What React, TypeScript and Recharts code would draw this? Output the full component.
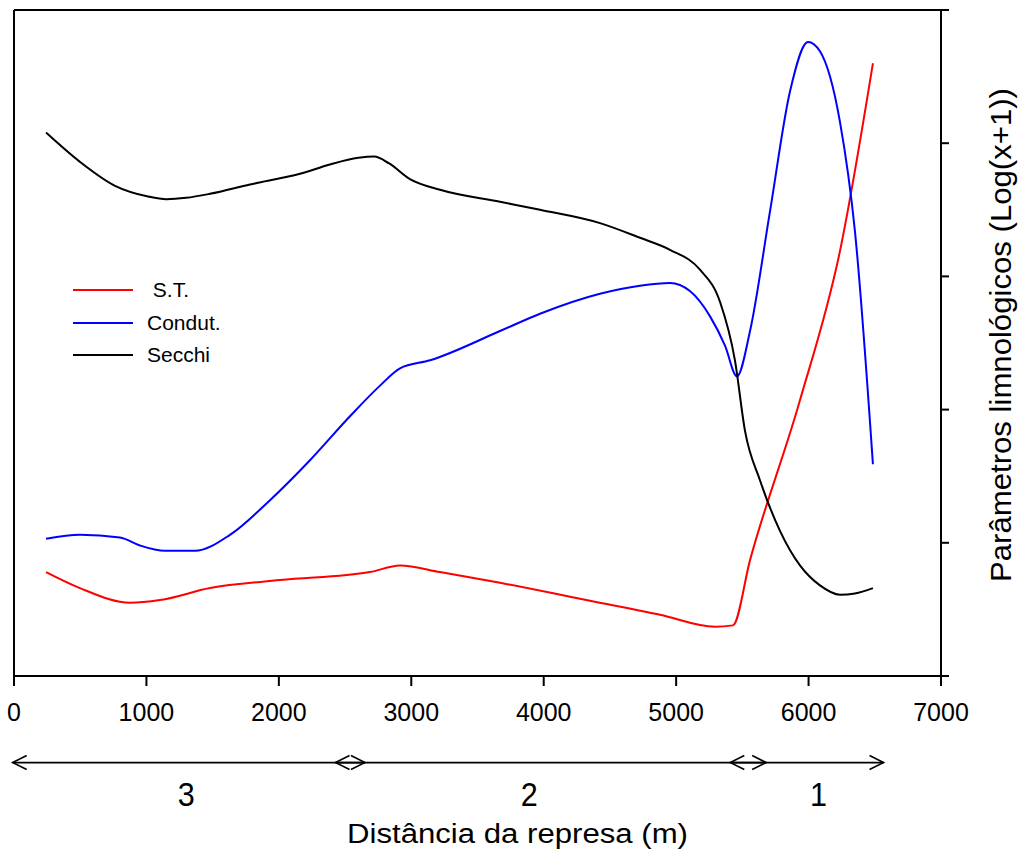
import {
  LineChart,
  Line,
  XAxis,
  YAxis,
  ReferenceLine,
  Label,
} from 'recharts'

// distance from the dam (m) and log(x+1) values
const secchiX = [242, 498, 763, 1012, 1150, 1300, 1480, 1782, 2160, 2386, 2600, 2720, 2830, 2990, 3217, 3670, 3972, 4425, 4727, 4953, 5180, 5331, 5444, 5520, 5633, 5784, 5935, 6086, 6237, 6350, 6486]
const secchiY = [4.08, 3.86, 3.68, 3.6, 3.58, 3.59, 3.62, 3.69, 3.77, 3.84, 3.89, 3.9, 3.85, 3.73, 3.65, 3.56, 3.5, 3.4, 3.29, 3.2, 3.05, 2.81, 2.37, 1.84, 1.47, 1.09, 0.83, 0.68, 0.61, 0.62, 0.66]

const condutX = [242, 498, 800, 951, 1140, 1367, 1631, 1933, 2235, 2537, 2764, 2915, 3142, 3670, 3972, 4425, 4727, 4953, 5104, 5256, 5369, 5459, 5558, 5709, 5860, 5996, 6086, 6237, 6350, 6486]
const condutY = [1.03, 1.06, 1.04, 0.98, 0.94, 0.94, 1.06, 1.32, 1.62, 1.95, 2.18, 2.31, 2.37, 2.59, 2.72, 2.87, 2.93, 2.95, 2.89, 2.7, 2.48, 2.25, 2.59, 3.49, 4.39, 4.76, 4.69, 4.16, 3.34, 1.59]

const stX = [242, 498, 876, 1102, 1480, 2009, 2688, 2915, 3217, 3670, 4274, 4878, 5293, 5429, 5558, 5935, 6237, 6486]
const stY = [0.78, 0.66, 0.55, 0.57, 0.66, 0.72, 0.78, 0.83, 0.78, 0.7, 0.58, 0.46, 0.37, 0.38, 0.87, 2.07, 3.19, 4.6]

const xTicks = [0, 1000, 2000, 3000, 4000, 5000, 6000, 7000]
const yTicks = [0, 1, 2, 3, 4, 5]

// zones along the reservoir (arrows under the x axis)
const zoneNames = ['3', '2', '1']
const zoneFrom = [-10, 2428, 5409]
const zoneTo = [2650, 5680, 6566]
const zoneLabelX = [1300, 3890, 6075]

const toPoints = (xs: number[], ys: number[]) => xs.map((x, i) => ({ x, y: ys[i] }))

const series = [
  { name: ' S.T.', color: '#ff0000', data: toPoints(stX, stY) },
  { name: 'Condut.', color: '#0000ff', data: toPoints(condutX, condutY) },
  { name: 'Secchi', color: '#000000', data: toPoints(secchiX, secchiY) },
]

const ARIAL = '"Liberation Sans", Arial, sans-serif'

function ZoneArrow(props: any) {
  const { x1, y1, x2, y2, zone } = props
  const i = zoneNames.indexOf(zone)
  const frac = (zoneLabelX[i] - zoneFrom[i]) / (zoneTo[i] - zoneFrom[i])
  const lx = x1 + (x2 - x1) * frac
  const h = 7
  const w = 14
  return (
    <g stroke="#000" strokeWidth={1.6} fill="none">
      <line x1={x1} y1={y1} x2={x2} y2={y2} />
      <polyline points={`${x1 + w},${y1 - h} ${x1},${y1} ${x1 + w},${y1 + h}`} />
      <polyline points={`${x2 - w},${y2 - h} ${x2},${y2} ${x2 - w},${y2 + h}`} />
      <text
        x={lx}
        y={y1 + 43}
        textAnchor="middle"
        stroke="none"
        fill="#000"
        fontSize={33}
        fontFamily={ARIAL}
        textLength={17}
        lengthAdjust="spacingAndGlyphs"
      >
        {zone}
      </text>
    </g>
  )
}

function LegendBox() {
  return (
    <div style={{ position: 'absolute', left: 73, top: 274, fontFamily: ARIAL, fontSize: 21, color: '#000' }}>
      {series.map(s => (
        <div key={s.name} style={{ display: 'flex', alignItems: 'center', height: 32.5 }}>
          <div style={{ width: 60, height: 2, background: s.color, marginRight: 14 }} />
          <span style={{ whiteSpace: 'pre' }}>{s.name}</span>
        </div>
      ))}
    </div>
  )
}

export default function App() {
  return (
    <div style={{ position: 'absolute', left: 0, top: 0, width: 1022, height: 854, background: '#fff' }}>
      <LineChart width={1022} height={854} margin={{ top: 10, right: 0, bottom: 0, left: 14 }}>
        <XAxis
          dataKey="x"
          type="number"
          domain={[0, 7000]}
          ticks={xTicks}
          allowDataOverflow
          height={178}
          axisLine={{ stroke: '#000', strokeWidth: 2 }}
          tickLine={{ stroke: '#000', strokeWidth: 2 }}
          tickSize={10}
          tickMargin={17}
          tick={{ fontSize: 25, fill: '#000', fontFamily: ARIAL }}
        >
          <Label
            content={({ viewBox }: any) => (
              <text
                x={viewBox.x + viewBox.width / 2 + 40}
                y={843}
                textAnchor="middle"
                fontSize={27}
                fontFamily={ARIAL}
                textLength={341}
                lengthAdjust="spacingAndGlyphs"
                fill="#000"
              >
                Distância da represa (m)
              </text>
            )}
          />
        </XAxis>
        <YAxis
          orientation="right"
          type="number"
          domain={[0, 5]}
          ticks={yTicks}
          width={81}
          tickFormatter={() => ''}
          tickSize={8}
          axisLine={{ stroke: '#000', strokeWidth: 2 }}
          tickLine={{ stroke: '#000', strokeWidth: 2 }}
        >
          <Label
            content={({ viewBox }: any) => (
              <text
                transform={`translate(1011, ${viewBox.y + viewBox.height / 2 - 8}) rotate(-90)`}
                textAnchor="middle"
                fontSize={29}
                fontFamily={ARIAL}
                textLength={494}
                lengthAdjust="spacingAndGlyphs"
                fill="#000"
              >
                Parâmetros limnológicos (Log(x+1))
              </text>
            )}
          />
        </YAxis>
        {/* frame: left and top edges of the box */}
        <ReferenceLine x={0} stroke="#000" strokeWidth={2} ifOverflow="visible" />
        <ReferenceLine y={5} stroke="#000" strokeWidth={2} ifOverflow="visible" />
        {zoneNames.map((z, i) => (
          <ReferenceLine
            key={z}
            segment={[
              { x: zoneFrom[i], y: -0.65 },
              { x: zoneTo[i], y: -0.65 },
            ]}
            ifOverflow="visible"
            shape={(p: any) => <ZoneArrow {...p} zone={z} />}
          />
        ))}
        {series.map(s => (
          <Line
            key={s.name}
            data={s.data}
            dataKey="y"
            name={s.name}
            type="monotone"
            stroke={s.color}
            strokeWidth={2}
            dot={false}
            activeDot={false}
            isAnimationActive={false}
          />
        ))}
      </LineChart>
      <LegendBox />
    </div>
  )
}
